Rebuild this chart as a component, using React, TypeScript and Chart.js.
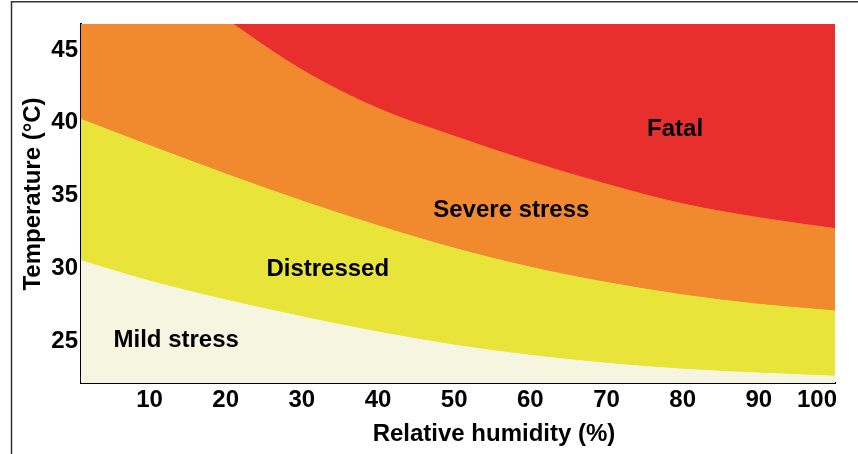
import React, { useEffect, useRef } from 'react';
import { Chart, registerables } from 'chart.js';

Chart.register(...registerables);

// ---- data ----
const humidity = [1, 10, 20, 30, 40, 50, 60, 70, 80, 90, 100];
const mildUpper = [30.4, 29.0, 27.7, 26.55, 25.5, 24.6, 23.9, 23.35, 22.95, 22.68, 22.46];
const distressedUpper = [40.1, 38.3, 36.35, 34.5, 32.8, 31.25, 29.95, 28.9, 28.05, 27.4, 26.95];
const severeUpper = [55.0, 50.8, 47.0, 43.5, 40.85, 38.95, 37.2, 35.65, 34.3, 33.35, 32.6];

const xTicks = [10, 20, 30, 40, 50, 60, 70, 80, 90, 100];
const yTicks = [25, 30, 35, 40, 45];

const zoneNames = ['Mild stress', 'Distressed', 'Severe stress', 'Fatal'];
const zoneLabelHumidity = [13.5, 33.4, 57.5, 79.0];
const zoneLabelTemp = [24.47, 29.33, 33.38, 38.95];

const xTitle = 'Relative humidity (%)';
const yTitle = 'Temperature (°C)';

// ---- styles ----
const X_MIN = 1;
const X_MAX = 100;
const Y_MIN = 22;
const Y_MAX = 46.65;
const FONT_FAMILY = "'Liberation Sans', Arial, Helvetica, sans-serif";
const FONT = `bold 24px ${FONT_FAMILY}`;
const CREAM = '#F6F6E0';
const YELLOW = '#E8E43A';
const ORANGE = '#F1892E';
const RED = '#E92E2E';

const pts = (vals: number[]) => humidity.map((h, i) => ({ x: h, y: vals[i] }));

const overlayPlugin = {
  id: 'overlay',
  afterDraw(chart: any) {
    const ctx: CanvasRenderingContext2D = chart.ctx;
    const xs = chart.scales.x;
    const ys = chart.scales.y;
    const area = chart.chartArea;
    ctx.save();
    // outer frame
    ctx.strokeStyle = '#333';
    ctx.lineWidth = 1.5;
    ctx.beginPath();
    ctx.moveTo(11.5, chart.height);
    ctx.lineTo(11.5, 1.75);
    ctx.lineTo(chart.width, 1.75);
    ctx.stroke();

    ctx.fillStyle = '#000';
    ctx.font = FONT;
    ctx.textBaseline = 'alphabetic';

    // x tick labels
    xTicks.forEach((v) => {
      const px = xs.getPixelForValue(v);
      const label = String(v);
      const w = ctx.measureText(label).width;
      if (px + w / 2 > area.right + 2) {
        ctx.textAlign = 'right';
        ctx.fillText(label, area.right + 2, area.bottom + 24);
      } else {
        ctx.textAlign = 'center';
        ctx.fillText(label, px, area.bottom + 24);
      }
    });

    // y tick labels
    ctx.textAlign = 'right';
    yTicks.forEach((v) => {
      ctx.fillText(String(v), area.left - 3, ys.getPixelForValue(v) + 8.5);
    });

    // zone labels
    ctx.textAlign = 'center';
    zoneNames.forEach((name, i) => {
      ctx.fillText(name, xs.getPixelForValue(zoneLabelHumidity[i]), ys.getPixelForValue(zoneLabelTemp[i]));
    });

    // x title
    ctx.textAlign = 'center';
    ctx.fillText(xTitle, (area.left + area.right) / 2 + 36, area.bottom + 58);

    // y title
    ctx.save();
    ctx.translate(40, (area.top + area.bottom) / 2 - 9.5);
    ctx.rotate(-Math.PI / 2);
    ctx.textAlign = 'center';
    ctx.fillText(yTitle, 0, 0);
    ctx.restore();

    ctx.restore();
  },
};

export default function App() {
  const ref = useRef<HTMLCanvasElement>(null);
  useEffect(() => {
    document.body.style.margin = '0';
    const common = {
      showLine: true,
      pointRadius: 0,
      pointHoverRadius: 0,
      borderWidth: 1,
      cubicInterpolationMode: 'monotone' as const,
      clip: 0,
    };
    const chart = new Chart(ref.current as HTMLCanvasElement, {
      type: 'line',
      data: {
        datasets: [
          { ...common, label: 'Mild stress', data: pts(mildUpper), fill: 'start', backgroundColor: CREAM, borderColor: CREAM },
          { ...common, label: 'Distressed', data: pts(distressedUpper), fill: '-1', backgroundColor: YELLOW, borderColor: YELLOW },
          { ...common, label: 'Severe stress', data: pts(severeUpper), fill: '-1', backgroundColor: ORANGE, borderColor: ORANGE },
          { ...common, label: 'Fatal', data: pts(severeUpper), fill: 'end', backgroundColor: RED, borderColor: RED },
        ],
      },
      options: {
        responsive: false,
        devicePixelRatio: 1,
        animation: false,
        layout: { padding: { top: 24, right: 23, left: 0, bottom: 0 } },
        plugins: { legend: { display: false }, tooltip: { enabled: false } },
        events: [],
        scales: {
          x: {
            type: 'linear',
            min: X_MIN,
            max: X_MAX,
            grid: { display: false, drawTicks: false },
            border: { display: true, color: '#000', width: 2 },
            ticks: { display: false },
            afterBuildTicks: (s: any) => { s.ticks = xTicks.map((v) => ({ value: v })); },
            afterFit: (s: any) => { s.height = 71; },
          },
          y: {
            type: 'linear',
            min: Y_MIN,
            max: Y_MAX,
            grid: { display: false, drawTicks: false },
            border: { display: true, color: '#000', width: 2 },
            ticks: { display: false },
            afterBuildTicks: (s: any) => { s.ticks = yTicks.map((v) => ({ value: v })); },
            afterFit: (s: any) => { s.width = 81; },
          },
        },
      } as any,
      plugins: [overlayPlugin],
    });
    return () => chart.destroy();
  }, []);
  return (
    <div style={{ position: 'absolute', left: 0, top: 0, width: 858, height: 454, background: '#fff' }}>
      <canvas ref={ref} width={858} height={454} style={{ display: 'block', width: 858, height: 454 }} />
    </div>
  );
}
